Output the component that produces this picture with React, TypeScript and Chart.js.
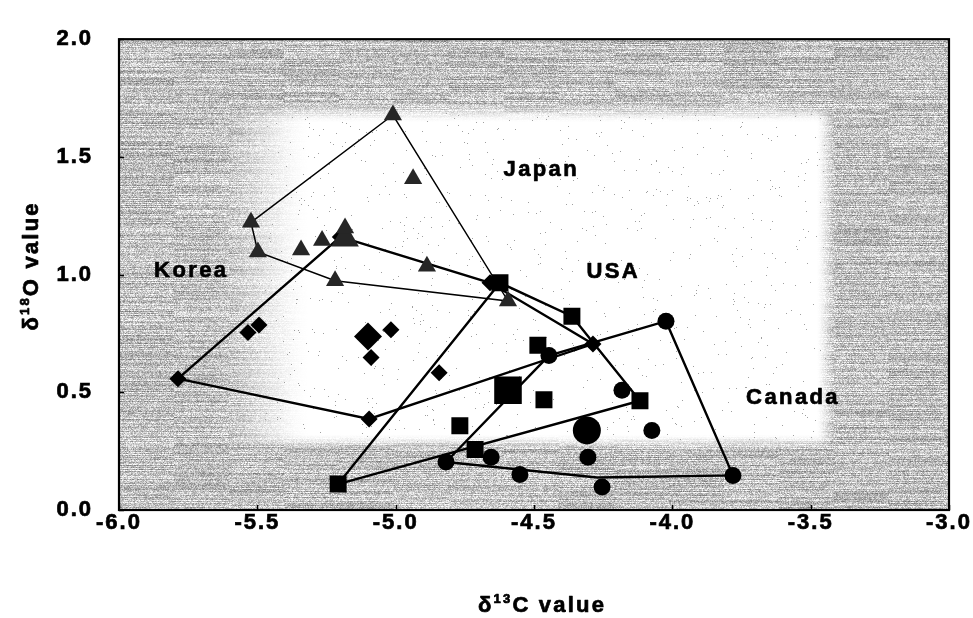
import React, { useEffect, useRef } from 'react';
import { Chart, registerables } from 'chart.js';

Chart.register(...registerables);

const WIDTH = 973;
const HEIGHT = 618;
const FONT = 'Arial, "Liberation Sans", Helvetica, sans-serif';

// Axis ticks
const xTicks = [-6.0, -5.5, -5.0, -4.5, -4.0, -3.5, -3.0];
const yTicks = [0.0, 0.5, 1.0, 1.5, 2.0];

// Korea (diamonds)
const koreaX = [-5.787, -5.534, -5.494, -5.089, -5.017, -4.843, -5.096, -4.659, -4.287, -5.2];
const koreaY = [0.558, 0.754, 0.786, 0.648, 0.766, 0.583, 0.387, 0.965, 0.705, 1.16];
const koreaMean = { x: -5.1, y: 0.737 };
const koreaHullX = [-5.787, -5.2, -4.659, -4.287, -5.096, -5.787];
const koreaHullY = [0.558, 1.16, 0.965, 0.705, 0.387, 0.558];

// Japan (triangles)
const japanX = [-5.523, -5.01, -4.937, -5.498, -5.342, -5.266, -5.183, -5.219, -4.887, -4.594];
const japanY = [1.222, 1.678, 1.407, 1.096, 1.104, 1.145, 1.198, 0.974, 1.035, 0.888];
const japanMean = { x: -5.183, y: 1.153 };
const japanHullX = [-5.523, -5.01, -4.594, -5.219, -5.498, -5.523];
const japanHullY = [1.222, 1.678, 0.888, 0.974, 1.096, 1.222];

// USA (squares)
const usaX = [-4.623, -4.363, -4.486, -4.464, -4.117, -4.768, -4.713, -5.208];
const usaY = [0.965, 0.823, 0.7, 0.468, 0.464, 0.358, 0.257, 0.11];
const usaMean = { x: -4.594, y: 0.509 };
const usaHullX = [-5.208, -4.623, -4.363, -4.117, -5.208];
const usaHullY = [0.11, 0.965, 0.823, 0.464, 0.11];

// Canada (circles)
const canadaX = [-4.023, -4.446, -4.182, -4.074, -4.305, -4.254, -4.551, -4.655, -4.818, -3.781];
const canadaY = [0.802, 0.656, 0.509, 0.338, 0.224, 0.098, 0.151, 0.224, 0.204, 0.147];
const canadaMean = { x: -4.309, y: 0.338 };
const canadaHullX = [-4.818, -4.446, -4.023, -3.781, -4.272, -4.818];
const canadaHullY = [0.204, 0.656, 0.802, 0.147, 0.138, 0.204];

// Group labels placed in data space
const groupNames = ['Korea', 'Japan', 'USA', 'Canada'];
const groupLabelX = [-5.743, -4.478, -4.218, -3.568];
const groupLabelY = [1.014, 1.446, 1.01, 0.477];

const toPoints = (xs: number[], ys: number[]) => xs.map((x, i) => ({ x, y: ys[i] }));

function hash2(x: number, y: number, s: number) {
  let h = Math.imul(x | 0, 374761393) ^ Math.imul(y | 0, 668265263) ^ Math.imul(s | 0, 1442695041);
  h = Math.imul(h ^ (h >>> 13), 1274126177);
  h ^= h >>> 16;
  return (h >>> 0) / 4294967296;
}

function smooth(e0: number, e1: number, v: number) {
  const t = Math.min(1, Math.max(0, (v - e0) / (e1 - e0)));
  return t * t * (3 - 2 * t);
}

// Plot-area fill: light centre panel fading into a grainy, hatched grey frame
function buildTexture(ctx: CanvasRenderingContext2D, w: number, h: number) {
  const img = ctx.createImageData(w, h);
  const d = img.data;
  const L = 0.172, R = 0.853, T = 0.153, B = 0.857;
  for (let j = 0; j < h; j++) {
    const v = j / h;
    const sT = smooth(T - 0.025, T + 0.025, v);
    const sB = 1 - smooth(B - 0.02, B + 0.02, v);
    const rowTone = j % 2 === 0 ? 12 : -12;
    for (let i = 0; i < w; i++) {
      const u = i / w;
      const inside = smooth(L - 0.07, L + 0.06, u) * (1 - smooth(R - 0.014, R + 0.014, u)) * sT * sB;
      const g = 1 - inside;
      const streak = hash2(j, Math.floor(i / 55), 7) - 0.5;
      const grain = hash2(i, j, 3) - 0.5;
      let val = 255 - g * (62 + rowTone + streak * 55 + grain * 85);
      if (hash2(i, j, 11) < 0.005 * (1 - g)) val = 160;
      val = Math.max(0, Math.min(255, val));
      const k = (j * w + i) * 4;
      d[k] = d[k + 1] = d[k + 2] = val;
      d[k + 3] = 255;
    }
  }
  return img;
}

function drawSpaced(
  ctx: CanvasRenderingContext2D,
  parts: { t: string; size: number; dy: number }[],
  x: number,
  y: number,
  spacing: number,
  stroke: number
) {
  const items: { c: string; size: number; dy: number; w: number }[] = [];
  parts.forEach((p) => {
    ctx.font = `bold ${p.size}px ${FONT}`;
    [...p.t].forEach((c) => items.push({ c, size: p.size, dy: p.dy, w: ctx.measureText(c).width }));
  });
  const total = items.reduce((a, b) => a + b.w, 0) + spacing * (items.length - 1);
  let cx = x - total / 2;
  ctx.textAlign = 'left';
  ctx.lineWidth = stroke;
  ctx.lineJoin = 'round';
  items.forEach((it) => {
    ctx.font = `bold ${it.size}px ${FONT}`;
    ctx.fillText(it.c, cx, y + it.dy);
    if (stroke > 0) ctx.strokeText(it.c, cx, y + it.dy);
    cx += it.w + spacing;
  });
}

export default function App() {
  const ref = useRef<HTMLCanvasElement>(null);

  useEffect(() => {
    const canvas = ref.current;
    if (!canvas) return;
    let texture: ImageData | null = null;
    let texKey = '';

    const backdrop = {
      id: 'backdrop',
      beforeDraw(chart: any) {
        const { ctx, chartArea: a } = chart;
        ctx.save();
        ctx.fillStyle = '#ffffff';
        ctx.fillRect(0, 0, chart.width, chart.height);
        ctx.restore();
        const x0 = Math.round(a.left), y0 = Math.round(a.top);
        const w = Math.round(a.right - a.left), h = Math.round(a.bottom - a.top);
        const key = `${x0},${y0},${w},${h}`;
        if (!texture || key !== texKey) {
          texture = buildTexture(ctx, w, h);
          texKey = key;
        }
        ctx.putImageData(texture, x0, y0);
        ctx.letterSpacing = '2px';
      },
      afterDatasetsDraw(chart: any) {
        const { ctx, scales } = chart;
        ctx.save();
        ctx.letterSpacing = '0px';
        ctx.fillStyle = '#000';
        ctx.strokeStyle = '#000';
        ctx.textBaseline = 'middle';
        groupNames.forEach((name, i) => {
          const px = scales.x.getPixelForValue(groupLabelX[i]);
          const py = scales.y.getPixelForValue(groupLabelY[i]);
          drawSpaced(ctx, [{ t: name, size: 22, dy: 0 }], px, py, 2.4, 0.7);
        });
        ctx.restore();
      },
      afterDraw(chart: any) {
        const { ctx, chartArea: a, scales } = chart;
        ctx.save();
        ctx.letterSpacing = '0px';
        ctx.strokeStyle = '#000';
        // inward tick marks
        ctx.lineWidth = 1.5;
        ctx.beginPath();
        xTicks.forEach((v) => {
          const px = Math.round(scales.x.getPixelForValue(v)) + 0.5;
          ctx.moveTo(px, a.bottom);
          ctx.lineTo(px, a.bottom - 5);
        });
        yTicks.forEach((v) => {
          const py = Math.round(scales.y.getPixelForValue(v)) + 0.5;
          ctx.moveTo(a.left, py);
          ctx.lineTo(a.left + 5, py);
        });
        ctx.stroke();
        // frame
        ctx.lineWidth = 2.2;
        ctx.strokeRect(a.left, a.top, a.right - a.left, a.bottom - a.top);
        // axis titles
        ctx.fillStyle = '#000';
        ctx.textBaseline = 'alphabetic';
        drawSpaced(
          ctx,
          [
            { t: 'δ', size: 22, dy: 0 },
            { t: '13', size: 13, dy: -9 },
            { t: 'C value', size: 22, dy: 0 },
          ],
          541,
          612,
          2.2,
          0.7
        );
        ctx.translate(30, 267);
        ctx.rotate(-Math.PI / 2);
        drawSpaced(
          ctx,
          [
            { t: 'δ', size: 22, dy: 0 },
            { t: '18', size: 13, dy: -9 },
            { t: 'O value', size: 22, dy: 0 },
          ],
          0,
          8,
          2.2,
          0.7
        );
        ctx.restore();
      },
    };

    const hull = (xs: number[], ys: number[], width: number) => ({
      type: 'scatter' as const,
      data: toPoints(xs, ys),
      showLine: true,
      pointRadius: 0,
      borderColor: '#000',
      borderWidth: width,
      backgroundColor: '#000',
      fill: false,
      tension: 0,
      order: 20,
    });

    const marks = (pts: { x: number; y: number }[], style: string, radius: number, color: string, order: number) => ({
      type: 'scatter' as const,
      data: pts,
      pointStyle: style,
      pointRadius: radius,
      pointBackgroundColor: color,
      pointBorderColor: color,
      pointBorderWidth: 0,
      showLine: false,
      order,
    });

    const tickFont = { family: FONT, size: 22, weight: 'bold' };

    const chart = new Chart(canvas, {
      type: 'scatter',
      data: {
        datasets: [
          hull(koreaHullX, koreaHullY, 2.4),
          hull(japanHullX, japanHullY, 1.5),
          hull(usaHullX, usaHullY, 2.4),
          hull(canadaHullX, canadaHullY, 2.4),
          marks(toPoints(koreaX, koreaY), 'rectRot', 8.5, '#000', 6),
          marks([koreaMean], 'rectRot', 14, '#000', 6),
          marks(toPoints(usaX, usaY), 'rect', 12, '#000', 5),
          marks([usaMean], 'rect', 19.5, '#000', 5),
          marks(toPoints(canadaX, canadaY), 'circle', 8.5, '#000', 4),
          marks([canadaMean], 'circle', 14, '#000', 4),
          marks([japanMean], 'triangle', 16, '#262626', 3),
          marks(toPoints(japanX, japanY), 'triangle', 10.5, '#262626', 2),
        ] as any,
      },
      options: {
        responsive: false,
        animation: false,
        events: [],
        layout: { padding: { left: 0, top: 19, right: 24, bottom: 0 } },
        plugins: { legend: { display: false }, tooltip: { enabled: false } },
        scales: {
          x: {
            type: 'linear',
            position: 'bottom',
            min: -6,
            max: -3,
            afterBuildTicks: (s: any) => {
              s.ticks = xTicks.map((value) => ({ value }));
            },
            afterFit: (s: any) => {
              s.height = HEIGHT - 510;
            },
            ticks: {
              padding: 0,
              color: '#000',
              maxRotation: 0,
              autoSkip: false,
              textStrokeColor: '#000',
              textStrokeWidth: 0.7,
              font: tickFont,
              callback: (v: any) => Number(v).toFixed(1),
            },
            grid: { display: false, drawTicks: false },
            border: { display: false },
          },
          y: {
            type: 'linear',
            min: 0,
            max: 2,
            afterBuildTicks: (s: any) => {
              s.ticks = yTicks.map((value) => ({ value }));
            },
            afterFit: (s: any) => {
              s.width = 119;
            },
            ticks: {
              padding: 26,
              color: '#000',
              textStrokeColor: '#000',
              textStrokeWidth: 0.7,
              font: tickFont,
              callback: (v: any) => Number(v).toFixed(1),
            },
            grid: { display: false, drawTicks: false },
            border: { display: false },
          },
        },
      } as any,
      plugins: [backdrop],
    });

    return () => chart.destroy();
  }, []);

  return (
    <div style={{ position: 'absolute', left: 0, top: 0, width: WIDTH, height: HEIGHT, background: '#fff' }}>
      <canvas ref={ref} width={WIDTH} height={HEIGHT} style={{ width: WIDTH, height: HEIGHT, display: 'block' }} />
    </div>
  );
}
